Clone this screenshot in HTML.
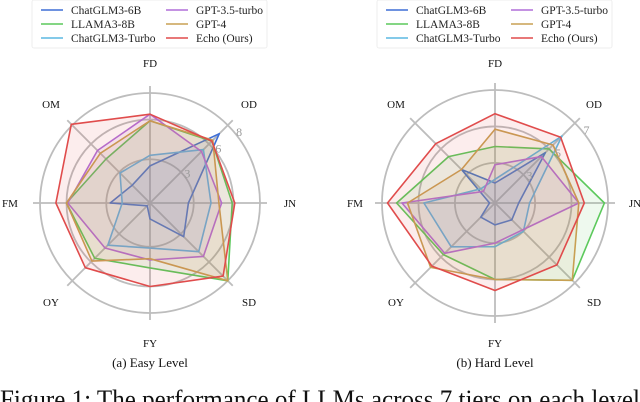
<!DOCTYPE html>
<html><head><meta charset="utf-8"><style>
html,body{margin:0;padding:0;background:#fff;overflow:hidden}
svg{display:block}
text{font-family:"Liberation Serif",serif}
</style></head><body>
<svg id="fig" width="640" height="402" viewBox="0 0 640 402"></svg>
<script>
const axes = ["FD","OD","JN","SD","FY","OY","FM","OM"];
const seriesNames = ["ChatGLM3-6B","LLAMA3-8B","ChatGLM3-Turbo","GPT-3.5-turbo","GPT-4","Echo (Ours)"];
const seriesColors = ["#3f6fd6","#5cc95c","#5bb8e2","#b16fd8","#c8a053","#e04c4c"];
// Easy level values (FD, OD, JN, SD, FY, OY, FM, OM)
const easyGLM6B   = [2.5, 7.1, 2.6, 3.3, 0.9, 0.0, 2.7, 1.6];
const easyLlama   = [5.9, 6.3, 5.9, 8.0, 4.6, 5.6, 6.0, 4.4];
const easyGLMTurbo= [3.3, 5.4, 4.3, 4.9, 3.1, 4.2, 1.8, 2.9];
const easyGPT35   = [6.4, 5.2, 5.1, 5.4, 4.0, 4.5, 5.9, 5.3];
const easyGPT4    = [5.9, 6.4, 4.9, 8.0, 3.9, 5.9, 6.0, 5.0];
const easyEcho    = [6.4, 6.3, 6.1, 7.5, 6.0, 6.6, 6.8, 8.1];
// Hard level values
const hardGLM6B   = [1.9, 4.7, 2.1, 2.1, 2.0, 1.9, 1.1, 3.4];
const hardLlama   = [3.9, 5.0, 6.8, 6.8, 5.0, 4.8, 6.2, 4.4];
const hardGLMTurbo= [2.1, 6.0, 2.7, 3.0, 3.2, 4.2, 4.7, 1.9];
const hardGPT35   = [2.9, 4.4, 5.4, 2.9, 3.0, 4.7, 5.9, 1.7];
const hardGPT4    = [4.85,5.3, 5.4, 6.8, 5.0, 5.8, 5.6, 3.4];
const hardEcho    = [5.7, 5.9, 5.7, 5.6, 5.6, 5.7, 6.7, 5.4];
const easyTicks = [3, 6, 8];
const hardTicks = [3, 5, 7];

const NS="http://www.w3.org/2000/svg";
const svg=document.getElementById('fig');
function mk(tag,attrs,parent){const e=document.createElementNS(NS,tag);for(const k in attrs)e.setAttribute(k,attrs[k]);(parent||svg).appendChild(e);return e;}

function drawRadar(prefix,cx,cy,R,vmin,vmax,ticks,data){
  const g=mk('g',{});
  
  
  const rs=v=>R*(v-vmin)/(vmax-vmin);
  const ang=i=>Math.PI/2 - i*2*Math.PI/axes.length;
  const pt=(i,r)=>[cx+r*Math.cos(ang(i)), cy-r*Math.sin(ang(i))];
  ticks.forEach(t=>{
    const c=mk('circle',{cx:cx,cy:cy,r:rs(t),fill:'none',stroke:'#bdbdbd','stroke-width':1.8},g);
    
    
  });
  axes.forEach((a,i)=>{
    const [x,y]=pt(i,R+7);
    const l=mk('line',{x1:cx,y1:cy,x2:x,y2:y,stroke:'#bdbdbd','stroke-width':1.8},g);
    
    
    const [tx,ty]=pt(i,140);
    const t=mk('text',{x:tx,y:ty+4,'text-anchor':'middle','font-size':11,fill:'#111'},g);
    t.textContent=a;
    
    
  });
  data.forEach((vals,s)=>{
    const pts=vals.map((v,i)=>pt(i,rs(Math.max(v,vmin))).map(n=>n.toFixed(1)).join(',')).join(' ');
    const p=mk('polygon',{points:pts,fill:seriesColors[s],'fill-opacity':0.1,stroke:seriesColors[s],'stroke-width':1.6,'stroke-linejoin':'round'},g);
    
    
  });
  const ta=Math.PI/2 - 1.5*2*Math.PI/axes.length + 0.28;
  ticks.forEach(t=>{
    const r=rs(t)+4;
    const tt=mk('text',{x:cx+r*Math.cos(ta),y:cy-r*Math.sin(ta)+4,'text-anchor':'middle','font-size':12,fill:'#999'},g);
    tt.setAttribute('font-family','Liberation Sans, sans-serif');
    tt.textContent=t;
    
    
  });
}

function drawLegend(prefix,x0,y0){
  const g=mk('g',{});
  
  
  const b=mk('rect',{x:x0,y:y0,width:235,height:48,fill:'#fff',stroke:'#eee','stroke-width':1,rx:2},g);
  
  
  const order=[0,1,2,3,4,5];
  order.forEach((s,k)=>{
    const col=Math.floor(k/3), row=k%3;
    const lx=x0+9+col*125, ly=y0+10+row*14;
    const ln=mk('line',{x1:lx,y1:ly,x2:lx+22,y2:ly,stroke:seriesColors[s],'stroke-width':1.6},g);
    
    
    const t=mk('text',{x:lx+30,y:ly+4,'font-size':11.5,fill:'#222'},g);
    t.textContent=seriesNames[s];
    
    
  });
}

drawLegend('easy',32,0);
drawLegend('hard',377,0);
drawRadar('easy',150,203,110,-0.3,8,easyTicks,[easyGLM6B,easyLlama,easyGLMTurbo,easyGPT35,easyGPT4,easyEcho]);
drawRadar('hard',495,203,113,0.8,7,hardTicks,[hardGLM6B,hardLlama,hardGLMTurbo,hardGPT35,hardGPT4,hardEcho]);

const c1=mk('text',{x:150,y:367,'text-anchor':'middle','font-size':13,fill:'#111'});
c1.textContent='(a) Easy Level';


const c2=mk('text',{x:495,y:367,'text-anchor':'middle','font-size':13,fill:'#111'});
c2.textContent='(b) Hard Level';


const fc=mk('text',{x:0,y:408,'font-size':26,fill:'#111',textLength:640,lengthAdjust:'spacingAndGlyphs'});
fc.textContent='Figure 1: The performance of LLMs across 7 tiers on each level';


</script>
</body></html>
